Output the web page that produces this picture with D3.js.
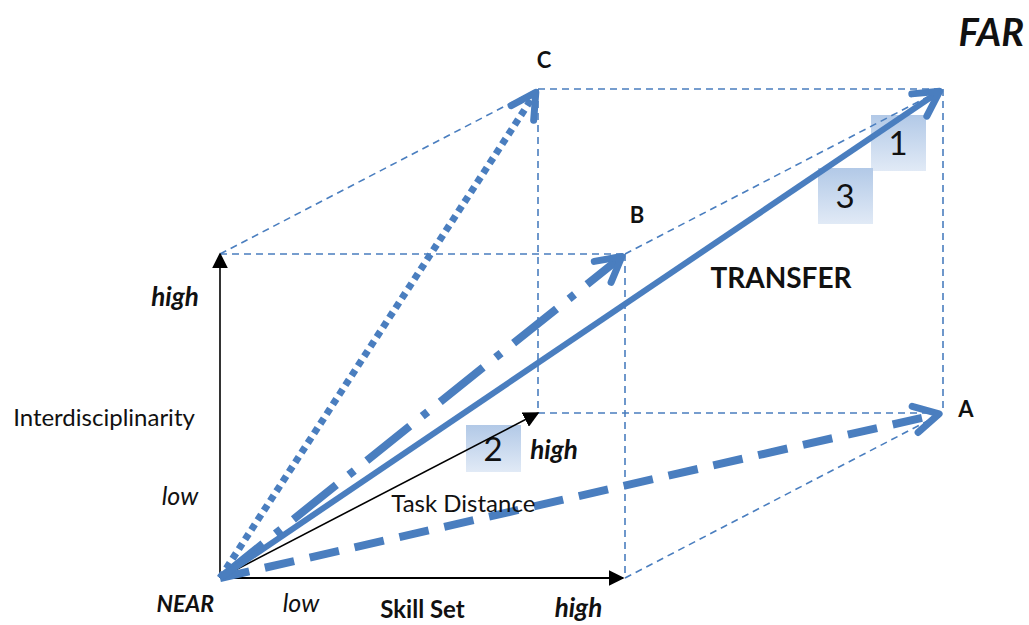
<!DOCTYPE html>
<html>
<head>
<meta charset="utf-8">
<script src="https://cdn.jsdelivr.net/npm/d3@7"></script>
<style>
  body { margin: 0; background: #fff; }
  text { font-family: Lato, "Liberation Sans", sans-serif; fill: #111; }
</style>
</head>
<body>
<script>
var w = 1029,
    h = 625;

// corners of the transfer cube: (skill set, interdisciplinarity, task distance)
var corners   = ["NEAR", "A", "B", "C", "FAR"];
var skill     = [0, 1, 1, 0, 1];
var interdisc = [0, 0, 1, 1, 1];
var task      = [0, 1, 0, 1, 1];

// transfer vectors drawn from NEAR
var vectors     = ["A", "B", "C", "FAR"];
var vectorStyle = ["dashed", "dashdot", "dotted", "solid"];

// dashed cube edges
var edgeFrom = ["Y", "Y", "C", "C", "B", "B", "Z", "FAR", "X"];
var edgeTo   = ["C", "B", "FAR", "Z", "X", "FAR", "A", "A", "A"];

// axis tick labels
var lowHigh = ["low", "high"];

// numbered boxes and the corner each one hangs off
var boxLabels = ["1", "2", "3"];
var boxAnchor = ["FAR", "Z", "FAR"];

var blue = "#4a7ebf";

var sx = d3.scaleLinear().domain([0, 1]).range([220, 625]);
var sy = d3.scaleLinear().domain([0, 1]).range([578, 254]);
var tx = d3.scaleLinear().domain([0, 1]).range([0, 318]);
var ty = d3.scaleLinear().domain([0, 1]).range([0, -165]);

function project(s, i, t) { return [sx(s) + tx(t), sy(i) + ty(t)]; }

var pts = {};
corners.forEach(function(c, k) { pts[c] = project(skill[k], interdisc[k], task[k]); });
pts.X = project(1, 0, 0);
pts.Y = project(0, 1, 0);
pts.Z = project(0, 0, 1);

var svg = d3.select("body").append("svg")
    .attr("width", w)
    .attr("height", h);

var defs = svg.append("defs");
var grad = defs.append("linearGradient")
    .attr("id", "boxgrad")
    .attr("x1", 0).attr("y1", 0).attr("x2", 0).attr("y2", 1);
grad.append("stop").attr("offset", "0%").attr("stop-color", "#b2c9e7");
grad.append("stop").attr("offset", "100%").attr("stop-color", "#e1eaf6");

defs.append("marker")
    .attr("id", "blk")
    .attr("viewBox", "0 0 10 10")
    .attr("refX", 9).attr("refY", 5)
    .attr("markerWidth", 16).attr("markerHeight", 16)
    .attr("markerUnits", "userSpaceOnUse")
    .attr("orient", "auto")
  .append("path")
    .attr("d", "M0,0L10,5L0,10z")
    .attr("fill", "#000");

// numbered boxes (behind the vectors)
var boxOff = [[-72, 26, 56], [-72, 12, 47], [-125, 79, 56]];
var boxes = svg.append("g").selectAll("g")
    .data(boxLabels)
  .enter().append("g")
    .attr("transform", function(d, k) {
      var p = pts[boxAnchor[k]];
      return "translate(" + (p[0] + boxOff[k][0]) + "," + (p[1] + boxOff[k][1]) + ")";
    });
boxes.append("rect")
    .attr("width", 55)
    .attr("height", function(d, k) { return boxOff[k][2]; })
    .attr("fill", "url(#boxgrad)");
boxes.append("text")
    .attr("x", 27)
    .attr("y", function(d, k) { return boxOff[k][2] / 2 + 12; })
    .attr("text-anchor", "middle")
    .style("font-size", "33px")
    .text(function(d) { return d; });

// dashed cube edges
svg.append("g").selectAll("line")
    .data(edgeFrom)
  .enter().append("line")
    .attr("x1", function(d) { return pts[d][0]; })
    .attr("y1", function(d) { return pts[d][1]; })
    .attr("x2", function(d, k) { return pts[edgeTo[k]][0]; })
    .attr("y2", function(d, k) { return pts[edgeTo[k]][1]; })
    .attr("stroke", blue)
    .attr("stroke-width", 1.6)
    .attr("stroke-dasharray", "7 5");

// black axes
svg.append("g").selectAll("line")
    .data(["X", "Y", "Z"])
  .enter().append("line")
    .attr("x1", pts.NEAR[0])
    .attr("y1", pts.NEAR[1])
    .attr("x2", function(d) { return pts[d][0] - (d == "X" ? 2 : 0); })
    .attr("y2", function(d) { return pts[d][1]; })
    .attr("stroke", "#000")
    .attr("stroke-width", function(d) { return d == "X" ? 2.2 : 1.6; })
    .attr("marker-end", "url(#blk)");

// transfer vectors
var dash = { solid: null, dotted: "6.5 5", dashdot: "55 16 7 16", dashed: "30 16" };
var width = { solid: 6, dotted: 7, dashdot: 8, dashed: 8 };

var vg = svg.append("g");
vectors.forEach(function(v, k) {
  var st = vectorStyle[k];
  var o = pts.NEAR, e = pts[v];
  var a = Math.atan2(e[1] - o[1], e[0] - o[0]);
  var tip = [e[0] - 4 * Math.cos(a), e[1] - 4 * Math.sin(a)];
  vg.append("line")
      .attr("x1", o[0]).attr("y1", o[1])
      .attr("x2", tip[0] - 3 * Math.cos(a)).attr("y2", tip[1] - 3 * Math.sin(a))
      .attr("stroke", blue)
      .attr("stroke-width", width[st])
      .attr("stroke-dasharray", dash[st]);
  var L = 28, sp = 0.5;
  var p1 = [tip[0] - L * Math.cos(a - sp), tip[1] - L * Math.sin(a - sp)];
  var p2 = [tip[0] - L * Math.cos(a + sp), tip[1] - L * Math.sin(a + sp)];
  vg.append("path")
      .attr("d", d3.line()([p1, tip, p2]))
      .attr("fill", "none")
      .attr("stroke", blue)
      .attr("stroke-width", 7)
      .attr("stroke-linecap", "round")
      .attr("stroke-linejoin", "round");
});

// labels
var labels = svg.append("g");
function label(txt, x, y, size, weight, style, anchor) {
  labels.append("text")
      .attr("x", x).attr("y", y)
      .attr("text-anchor", anchor || "start")
      .style("font-size", size + "px")
      .style("font-weight", weight)
      .style("font-style", style)
      .text(txt);
}

label("FAR", pts.FAR[0] + 81, 46, 38, "bold", "italic", "end");
label("TRANSFER", 781, 288, 28, "bold", "normal", "middle");
label("C", pts.C[0] + 6, 68, 22, "bold", "normal", "middle");
label("B", pts.B[0] + 12, pts.B[1] - 31, 22, "bold", "normal", "middle");
label("A", pts.A[0] + 23, pts.A[1] + 4, 22, "bold", "normal", "middle");
label("NEAR", pts.NEAR[0] - 6, pts.NEAR[1] + 34, 23, "bold", "italic", "end");

// skill set axis
label(lowHigh[0], sx(0.2), 612, 25, "normal", "italic", "middle");
label("Skill Set", sx(0.5), 618, 24, "bold", "normal", "middle");
label(lowHigh[1], sx(0.885), 617, 26, "bold", "italic", "middle");

// interdisciplinarity axis
label(lowHigh[0], 180, sy(0.225), 25, "normal", "italic", "middle");
label("Interdisciplinarity", 104, sy(0.47), 24, "normal", "normal", "middle");
label(lowHigh[1], 175, sy(0.84), 26, "bold", "italic", "middle");

// task distance axis
label("Task Distance", sx(0) + tx(0.765), sy(0) + ty(0.4), 24, "normal", "normal", "middle");
label(lowHigh[1], pts.Z[0] + 16, pts.Z[1] + 46, 26, "bold", "italic", "middle");
</script>
</body>
</html>
